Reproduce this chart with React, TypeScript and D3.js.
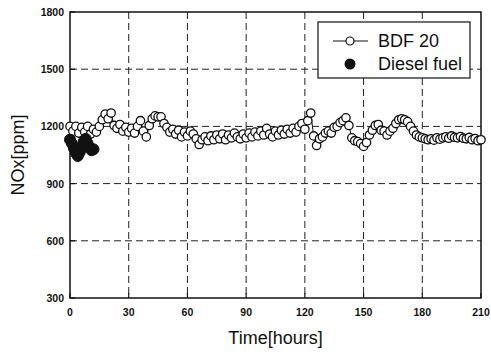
import React from "react";
import * as d3 from "d3";

const bdfTimes: number[] = [
  0, 1.5, 3, 4.5, 6, 7.5, 9, 10.5, 12,
  13.5, 15, 16.5, 18, 19.5, 21,
  22.5, 24, 25.5, 27, 28.5, 30,
  31.5, 33, 34.5, 36, 37.5, 39,
  40.5, 42, 43.5, 45, 46.5, 48,
  49.5, 51, 52.5, 54, 55.5, 57,
  58.5, 60, 61.5, 63, 64.5, 66,
  67.5, 69, 70.5, 72, 73.5, 75,
  76.5, 78, 79.5, 81, 82.5, 84,
  85.5, 87, 88.5, 90, 91.5, 93,
  94.5, 96, 97.5, 99, 100.5, 102,
  103.5, 105, 106.5, 108, 109.5, 111,
  112.5, 114, 115.5, 117, 118.5, 120,
  121.5, 123, 124.5, 126, 127.5, 129,
  130.5, 132, 133.5, 135, 136.5, 138,
  139.5, 141, 142.5, 144, 145.5, 147,
  148.5, 150, 151.5, 153, 154.5, 156,
  157.5, 159, 160.5, 162, 163.5, 165,
  166.5, 168, 169.5, 171, 172.5, 174,
  175.5, 177, 178.5, 180, 181.5, 183,
  184.5, 186, 187.5, 189, 190.5, 192,
  193.5, 195, 196.5, 198, 199.5, 201,
  202.5, 204, 205.5, 207, 208.5, 210,
];

const bdfValues: number[] = [
  1200, 1175, 1200, 1165, 1195, 1170, 1200, 1160, 1185,
  1170, 1200, 1235, 1265, 1240, 1270,
  1205, 1190, 1210, 1175, 1195, 1170,
  1190, 1165, 1200, 1230, 1175, 1145,
  1205, 1240, 1255, 1250, 1250, 1215,
  1195, 1170, 1185, 1160, 1180, 1145,
  1170, 1150, 1175, 1160, 1135, 1105,
  1130, 1145, 1125, 1150, 1130, 1155,
  1135, 1160, 1130, 1155, 1140, 1165,
  1145, 1135, 1160, 1140, 1165, 1145,
  1170, 1150, 1175, 1155, 1190, 1160,
  1145, 1175, 1155, 1180, 1160, 1185,
  1165, 1190, 1170, 1200, 1215, 1185,
  1230, 1270, 1150, 1100, 1135, 1145,
  1165, 1175, 1165, 1195, 1200, 1220,
  1230, 1245, 1205, 1140, 1125, 1120,
  1110, 1095, 1115, 1155, 1180, 1205,
  1210, 1180, 1175, 1155, 1175, 1190,
  1215, 1235, 1240, 1235, 1225, 1200,
  1175, 1155, 1145, 1140, 1135, 1130,
  1135, 1128, 1140, 1133, 1140, 1145,
  1138, 1150, 1143, 1140, 1147, 1138,
  1135, 1142, 1130, 1136, 1125, 1130,
];

const dieselTimes: number[] = [0, 1, 2, 3, 4, 5, 6, 7, 8, 9, 10, 11, 12];
const dieselValues: number[] = [1130, 1110, 1085, 1060, 1045, 1065, 1090, 1120, 1135, 1110, 1090, 1075, 1080];

const xTicks: number[] = [0, 30, 60, 90, 120, 150, 180, 210];
const yTicks: number[] = [300, 600, 900, 1200, 1500, 1800];
const seriesNames: string[] = ["BDF 20", "Diesel fuel"];

const W = 491;
const H = 354;
const left = 70;
const right = 481;
const top = 12;
const bottom = 298;
const font = "'Liberation Sans', Arial, sans-serif";

export default function App() {
  const x = d3.scaleLinear().domain([0, 210]).range([left, right]);
  const y = d3.scaleLinear().domain([300, 1800]).range([bottom, top]);

  const bdf = bdfTimes.map((t, i) => [t, bdfValues[i]] as [number, number]);
  const diesel = dieselTimes.map((t, i) => [t, dieselValues[i]] as [number, number]);

  const line = d3
    .line<[number, number]>()
    .x((d) => x(d[0]))
    .y((d) => y(d[1]));

  const ink = "#111";

  return (
    <svg
      width={W}
      height={H}
      style={{ position: "absolute", left: 0, top: 0, background: "#fff" }}
    >
      <rect x={0} y={0} width={W} height={H} fill="#fff" />
      {xTicks.slice(1, -1).map((t) => (
        <line
          key={"gx" + t}
          x1={x(t)}
          x2={x(t)}
          y1={top}
          y2={bottom}
          stroke="#222"
          strokeWidth={1}
          strokeDasharray="7,4"
        />
      ))}
      {yTicks.slice(1, -1).map((v) => (
        <line
          key={"gy" + v}
          x1={left}
          x2={right}
          y1={y(v)}
          y2={y(v)}
          stroke="#222"
          strokeWidth={1}
          strokeDasharray="7,4"
        />
      ))}
      {xTicks.map((t) => (
        <line key={"tx" + t} x1={x(t)} x2={x(t)} y1={bottom} y2={bottom - 5} stroke={ink} strokeWidth={1.2} />
      ))}
      {yTicks.map((v) => (
        <line key={"ty" + v} x1={left} x2={left + 5} y1={y(v)} y2={y(v)} stroke={ink} strokeWidth={1.2} />
      ))}
      <rect
        x={left}
        y={top}
        width={right - left}
        height={bottom - top}
        fill="none"
        stroke={ink}
        strokeWidth={1.5}
      />
      {xTicks.map((t) => (
        <text
          key={"lx" + t}
          x={x(t)}
          y={bottom + 18}
          textAnchor="middle"
          fontFamily={font}
          fontSize={10.5}
          fontWeight="bold"
          fill={ink}
        >
          {t}
        </text>
      ))}
      {yTicks.map((v) => (
        <text
          key={"ly" + v}
          x={left - 6}
          y={y(v) + 4}
          textAnchor="end"
          fontFamily={font}
          fontSize={10.5}
          fontWeight="bold"
          fill={ink}
        >
          {v}
        </text>
      ))}
      <text
        x={(left + right) / 2}
        y={344}
        textAnchor="middle"
        fontFamily={font}
        fontSize={18}
        fill={ink}
      >
        Time[hours]
      </text>
      <text
        transform={`translate(24,${(top + bottom) / 2}) rotate(-90)`}
        textAnchor="middle"
        fontFamily={font}
        fontSize={18}
        fill={ink}
      >
        NOx[ppm]
      </text>
      <path d={line(bdf) || ""} fill="none" stroke={ink} strokeWidth={1} />
      {bdf.map((d, i) => (
        <circle
          key={"b" + i}
          cx={x(d[0])}
          cy={y(d[1])}
          r={4.2}
          fill="#fff"
          stroke={ink}
          strokeWidth={1.3}
        />
      ))}
      {diesel.map((d, i) => (
        <circle key={"d" + i} cx={x(d[0])} cy={y(d[1])} r={5.5} fill={ink} stroke={ink} strokeWidth={1} />
      ))}
      <rect x={318} y={22} width={152} height={56} fill="#fff" stroke={ink} strokeWidth={1.2} />
      <line x1={333} x2={368} y1={41} y2={41} stroke={ink} strokeWidth={1.2} />
      <circle cx={350} cy={41} r={4} fill="#fff" stroke={ink} strokeWidth={1.2} />
      <circle cx={350} cy={64} r={5.5} fill={ink} />
      <text x={378} y={47} fontFamily={font} fontSize={18} fill={ink}>
        {seriesNames[0]}
      </text>
      <text x={378} y={70} fontFamily={font} fontSize={18} fill={ink}>
        {seriesNames[1]}
      </text>
    </svg>
  );
}
